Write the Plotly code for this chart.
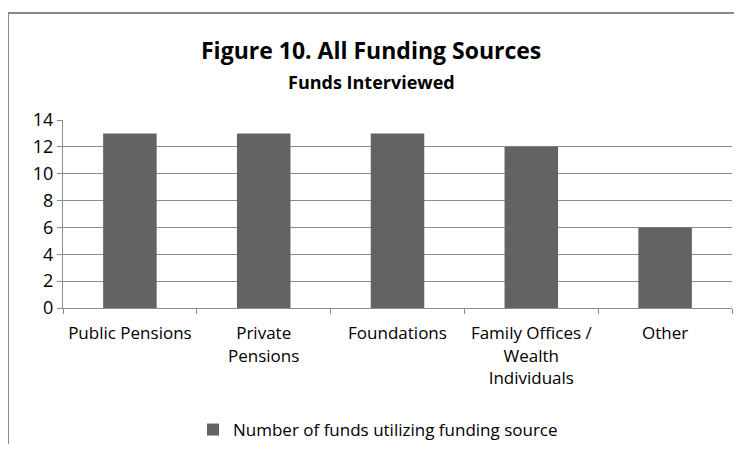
import plotly.graph_objects as go

categories = ["Public Pensions", "Private<br>Pensions", "Foundations",
              "Family Offices /<br>Wealth<br>Individuals", "Other"]
values = [13, 13, 13, 12, 6]
series_name = "Number of funds utilizing funding source"

FONT = "'Open Sans', sans-serif"
GRID = "#8c8c8c"

# page body has 8px margin, so figure is 742-16 x 452-16
W, H = 726, 436
L, T, R, B = 55, 112, 2, 136
pw, ph = W - L - R, H - T - B


def py(fy):
    # figure pixel row -> paper y
    return (T + ph - fy) / ph


def px(fx):
    return (fx - L) / pw


fig = go.Figure(go.Bar(
    x=categories, y=values,
    name=series_name,
    marker=dict(color="#636363", line=dict(width=0)),
    showlegend=True,
))

# outer chart border (only left and top edges are inside the picture)
border = dict(color="#8a8a8a", width=2)
fig.add_shape(type="line", xref="paper", yref="paper",
              x0=px(0), x1=px(0), y0=py(H), y1=py(5), line=border)
fig.add_shape(type="line", xref="paper", yref="paper",
              x0=px(0), x1=px(W), y0=py(5), y1=py(5), line=border)

fig.add_annotation(text="<b>Figure 10. All Funding Sources</b>", xref="paper", yref="paper",
                   x=px(363), y=py(42), yanchor="middle", showarrow=False,
                   font=dict(size=23, color="#000", family=FONT))
fig.add_annotation(text="<b>Funds Interviewed</b>", xref="paper", yref="paper",
                   x=px(363), y=py(74), yanchor="middle", showarrow=False,
                   font=dict(size=18, color="#000", family=FONT))

fig.update_layout(
    width=W, height=H,
    margin=dict(l=L, r=R, t=T, b=B, autoexpand=False),
    paper_bgcolor="white", plot_bgcolor="white",
    font=dict(family=FONT, size=17, color="#000"),
    bargap=0.6,
    legend=dict(orientation="h", x=px(370), xanchor="center",
                y=py(422), yanchor="middle",
                font=dict(size=17), itemwidth=30),
)
fig.update_xaxes(
    showline=True, linecolor=GRID, linewidth=1, automargin=False,
    ticks="outside", tickson="boundaries", ticklen=5, tickcolor=GRID,
    ticklabelstandoff=10,
    tickfont=dict(size=17), showgrid=False,
)
fig.update_yaxes(
    range=[0, 14], dtick=2, showline=True, linecolor=GRID, linewidth=1, automargin=False,
    ticks="outside", ticklen=5, tickcolor=GRID,
    showgrid=True, gridcolor=GRID, gridwidth=1, zeroline=False,
    tickfont=dict(size=18),
)

fig.write_html("out.html")
